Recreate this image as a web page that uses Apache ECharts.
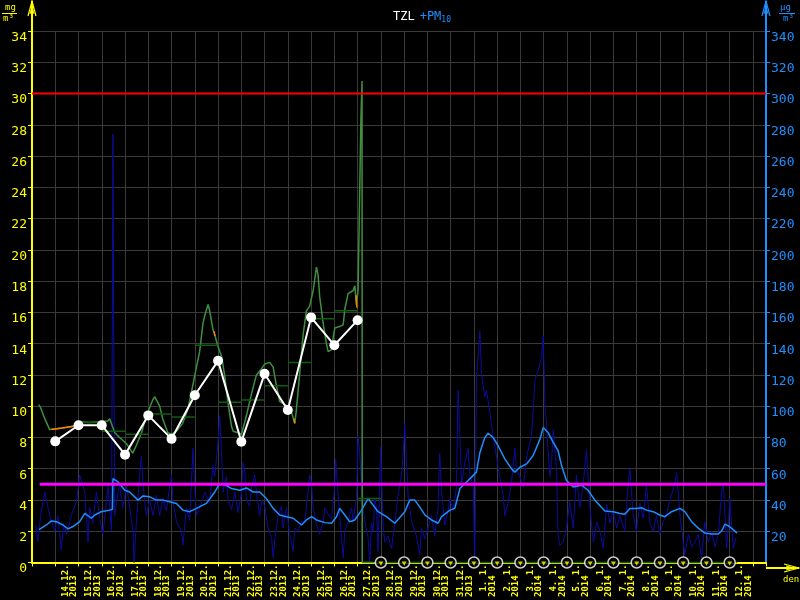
<!DOCTYPE html>
<html><head><meta charset="utf-8">
<script src="https://cdn.jsdelivr.net/npm/echarts@6/dist/echarts.min.js"></script>
<style>html,body{margin:0;padding:0;background:#000}#c{width:800px;height:600px}</style>
</head><body><div id="c"></div>
<script>
// x values are days since 13.12.2013 00:00
const dayLabels = ['14.12.\n2013\u00a0\u00a0','15.12.\n2013\u00a0\u00a0','16.12.\n2013\u00a0\u00a0','17.12.\n2013\u00a0\u00a0','18.12.\n2013\u00a0\u00a0','19.12.\n2013\u00a0\u00a0','20.12.\n2013\u00a0\u00a0','21.12.\n2013\u00a0\u00a0','22.12.\n2013\u00a0\u00a0','23.12.\n2013\u00a0\u00a0','24.12.\n2013\u00a0\u00a0','25.12.\n2013\u00a0\u00a0','26.12.\n2013\u00a0\u00a0','27.12.\n2013\u00a0\u00a0','28.12.\n2013\u00a0\u00a0','29.12.\n2013\u00a0\u00a0','30.12.\n2013\u00a0\u00a0','31.12.\n2013\u00a0\u00a0',
 '\u00a01.\u00a01.\n2014\u00a0\u00a0','\u00a02.\u00a01.\n2014\u00a0\u00a0','\u00a03.\u00a01.\n2014\u00a0\u00a0','\u00a04.\u00a01.\n2014\u00a0\u00a0','\u00a05.\u00a01.\n2014\u00a0\u00a0','\u00a06.\u00a01.\n2014\u00a0\u00a0','\u00a07.\u00a01.\n2014\u00a0\u00a0','\u00a08.\u00a01.\n2014\u00a0\u00a0','\u00a09.\u00a01.\n2014\u00a0\u00a0','10.\u00a01.\n2014\u00a0\u00a0','11.\u00a01.\n2014\u00a0\u00a0','12.\u00a01.\n2014\u00a0\u00a0'];

const pm10Hourly = [[0.16,24],[0.25,13.5],[0.37,30],[0.55,45],[0.62,46],[0.76,30],[0.98,20],[1.11,30],[1.26,8],[1.36,25],[1.49,18],[1.69,30],[1.91,39],[2.05,56],[2.12,57],[2.27,45],[2.41,13],[2.48,35],[2.61,25],[2.77,45],[2.91,28],[3.05,18],[3.27,49],[3.34,35],[3.42,20],[3.48,274],[3.52,120],[3.56,30],[3.63,39],[3.77,50],[3.90,35],[4.06,49],[4.20,35],[4.34,20],[4.39,0],[4.49,26],[4.63,56],[4.71,68],[4.77,50],[4.92,30],[5.06,40],[5.20,30],[5.35,43],[5.49,30],[5.63,41],[5.78,33],[5.92,49],[6.00,56],[6.06,40],[6.21,26],[6.43,20],[6.49,11],[6.64,35],[6.78,27],[6.92,73],[6.99,50],[7.07,30],[7.29,38],[7.43,45],[7.64,38],[7.78,62],[7.86,55],[8.00,77],[8.07,94],[8.15,70],[8.22,45],[8.36,55],[8.43,40],[8.58,34],[8.72,45],[8.86,32],[9.01,45],[9.08,64],[9.15,58],[9.22,40],[9.36,36],[9.44,48],[9.58,56],[9.65,45],[9.79,30],[9.87,40],[10.01,36],[10.15,22],[10.30,16],[10.37,3],[10.44,15],[10.58,30],[10.73,36],[10.79,22],[10.94,35],[11.08,18],[11.23,7],[11.30,22],[11.44,20],[11.59,26],[11.73,26],[11.87,45],[11.94,56],[12.02,50],[12.09,35],[12.23,24],[12.37,18],[12.52,26],[12.59,35],[12.73,31],[12.88,28],[13.02,49],[13.06,66],[13.16,45],[13.23,30],[13.38,3],[13.45,20],[13.59,26],[13.74,35],[13.81,26],[13.95,41],[14.02,81],[14.09,70],[14.17,50],[14.24,35],[14.31,26],[14.45,16],[14.52,0],[14.60,25],[14.67,20],[14.74,41],[14.81,35],[14.88,7],[14.99,74],[15.10,22],[15.17,13],[15.31,17],[15.46,9],[15.60,25],[15.74,43],[15.89,56],[15.96,70],[16.03,89],[16.10,65],[16.17,43],[16.32,26],[16.53,17],[16.67,5],[16.75,22],[16.89,15],[17.03,22],[17.18,30],[17.32,17],[17.46,35],[17.53,70],[17.61,45],[17.75,24],[17.89,33],[17.97,41],[18.11,33],[18.25,48],[18.32,110],[18.40,80],[18.47,50],[18.61,64],[18.75,73],[18.83,55],[18.97,50],[19.04,0],[19.11,117],[19.26,148],[19.33,120],[19.47,106],[19.54,110],[19.69,96],[19.83,80],[19.97,68],[20.12,54],[20.26,43],[20.33,30],[20.47,38],[20.62,52],[20.76,73],[20.83,60],[20.98,55],[21.12,48],[21.27,68],[21.48,81],[21.63,117],[21.77,123],[21.91,132],[21.98,145],[22.06,100],[22.12,89],[22.19,72],[22.27,55],[22.34,64],[22.41,85],[22.55,60],[22.62,18],[22.69,11],[22.84,13],[22.98,22],[23.12,39],[23.27,22],[23.41,56],[23.55,35],[23.70,50],[23.84,72],[23.91,55],[23.99,35],[24.14,13],[24.28,26],[24.42,20],[24.56,9],[24.71,37],[24.85,25],[24.99,33],[25.14,22],[25.28,30],[25.49,20],[25.63,49],[25.71,60],[25.85,30],[25.99,20],[26.14,38],[26.28,28],[26.42,49],[26.57,25],[26.71,20],[26.85,30],[26.99,18],[27.14,26],[27.28,30],[27.42,40],[27.57,47],[27.72,57],[27.86,30],[28.00,13],[28.07,5],[28.22,18],[28.36,10],[28.50,13],[28.65,18],[28.79,3],[28.93,26],[29.08,13],[29.22,20],[29.37,10],[29.51,18],[29.66,47],[29.73,49],[29.87,9],[30.01,41],[30.15,9],[30.27,16]];

const pm10Average = [[0.30,21],[0.62,24],[0.83,26.6],[1.05,26.1],[1.33,24],[1.55,21.5],[1.76,23],[2.05,26.1],[2.27,31.4],[2.55,28.3],[2.70,30.4],[2.98,32.5],[3.34,33.5],[3.46,34],[3.48,53.6],[3.70,51.5],[3.99,46.2],[4.20,45.1],[4.56,39.9],[4.77,42.6],[5.06,42],[5.35,39.9],[5.63,39.9],[5.92,38.8],[6.21,37.8],[6.49,33.5],[6.78,32.5],[7.07,34.6],[7.50,37.8],[7.86,45.1],[8.07,50.4],[8.29,49.9],[8.58,47.3],[8.93,46.2],[9.22,47.7],[9.51,45.1],[9.79,45.1],[10.08,40.9],[10.37,34.6],[10.65,30.4],[10.94,29.3],[11.23,28.3],[11.59,24],[11.80,27.2],[12.02,29.3],[12.23,27.2],[12.59,25.5],[12.88,25.1],[13.09,29.3],[13.23,34.6],[13.45,30.4],[13.66,26.1],[13.88,27.2],[14.17,33.5],[14.45,40.9],[14.67,36.7],[14.88,32.5],[15.24,29.3],[15.60,25.1],[16.03,32.5],[16.24,39.9],[16.46,39.9],[16.67,35.6],[16.89,30.4],[17.18,27.2],[17.46,25.1],[17.61,29.3],[17.97,33.5],[18.18,34.6],[18.40,47.3],[18.61,50.4],[18.90,54.6],[19.11,57.8],[19.26,70.4],[19.47,79.9],[19.61,82.7],[19.83,79.9],[20.04,74.7],[20.33,66.3],[20.62,59.9],[20.76,57.8],[20.98,60.9],[21.27,63.1],[21.55,68.4],[21.84,78.9],[21.98,86.3],[22.19,83.1],[22.41,76.8],[22.62,71.5],[22.77,62],[22.98,52.5],[23.27,48.3],[23.34,49.4],[23.63,49.4],[23.91,46.2],[24.20,39.9],[24.63,32.9],[24.99,32.5],[25.28,31.4],[25.49,30.8],[25.71,34.6],[25.99,34.6],[26.21,35],[26.42,33.5],[26.71,32.5],[26.99,30.4],[27.21,29.3],[27.50,32.5],[27.86,34.6],[28.07,32.5],[28.36,26.1],[28.65,22],[28.93,18.8],[29.22,18.2],[29.51,18.2],[29.66,20.3],[29.80,24.5],[29.99,23],[30.16,20.9],[30.31,18.8]];

const tzlRunning = [[0.29,10.1],[0.37,9.9],[0.55,9.2],[0.76,8.5],[0.83,8.5],[1.30,8.6],[1.91,8.75],[1.97,9.0],[2.48,8.95],[2.91,9.0],[3.26,9.05],[3.34,9.2],[3.56,8.3],[3.77,8.0],[4.06,7.6],[4.20,7.3],[4.33,7.0],[4.49,7.5],[4.71,8.3],[4.92,9.4],[5.19,10.4],[5.28,10.6],[5.49,10.0],[5.62,9.2],[5.84,8.3],[6.00,8.2],[6.21,8.4],[6.48,8.9],[6.70,9.8],[6.91,11.3],[6.99,11.9],[7.21,13.5],[7.35,15.3],[7.43,15.8],[7.57,16.5],[7.64,16.1],[7.78,14.9],[7.85,14.6],[8.00,13.8],[8.15,13.2],[8.29,11.9],[8.43,10.2],[8.58,8.7],[8.65,8.4],[8.86,8.3],[9.01,8.2],[9.22,9.4],[9.44,10.8],[9.65,12.0],[9.87,12.4],[10.01,12.7],[10.22,12.8],[10.37,12.5],[10.51,11.3],[10.65,10.3],[10.87,10.1],[11.01,10.0],[11.16,9.6],[11.30,8.9],[11.37,9.8],[11.51,12.1],[11.66,14.6],[11.80,16.1],[11.94,16.4],[12.09,17.4],[12.23,18.9],[12.30,18.4],[12.37,17.0],[12.52,15.3],[12.66,14.0],[12.73,13.5],[12.88,13.6],[12.95,14.4],[13.02,15.0],[13.23,15.1],[13.38,15.2],[13.45,16.2],[13.59,17.2],[13.81,17.4],[13.88,17.7],[13.95,16.5],[14.02,17.4],[14.10,17.5],[14.14,28.2],[14.17,28.2],[14.19,30.8],[14.20,0],[15.00,0]];

const tzlInterpolated = [[[0.83,8.5],[1.30,8.6],[1.91,8.75]],[[7.82,14.8],[7.87,14.5]],[[11.26,9.2],[11.30,8.9]],[[13.93,17.1],[13.97,16.3]]];

const tzlDailyDays = [2,3,4,5,6,7,8,9,10,11,12,13,14];
const tzlDailyBars = [8.95,8.4,8.2,9.5,9.3,13.9,10.25,10.4,11.3,12.8,15.6,16.1,4.1];
const tzlNoDataRange = [15,30.3];

const tzlDailyPoints = [[1,7.75],[2,8.78],[3,8.78],[4,6.9],[5,9.41],[6,7.91],[7,10.7],[8,12.9],[9,7.72],[10,12.07],[11,9.75],[12,15.68],[13,13.9],[14,15.5]];
const noDataDays = [15,16,17,18,19,20,21,22,23,24,25,26,27,28,29,30];

const limitTZL = 30;     // mg/m3
const limitPM10 = 50;    // ug/m3
const X_MAX = 31.56;

const YEL = '#ffff00', BLUE = '#1e8fff';
const MONO = 'DejaVu Sans Mono';

function segData(segs){
  const out=[];
  segs.forEach(s=>{ s.forEach(p=>out.push(p)); out.push([s[s.length-1][0],'-']); });
  return out;
}
const dailySegs = tzlDailyDays.map((d,i)=>[[d,tzlDailyBars[i]],[d+1,tzlDailyBars[i]]]);
dailySegs.push([[tzlNoDataRange[0],0],[tzlNoDataRange[1],0]]);

const chart = echarts.init(document.getElementById('c'));
chart.setOption({
  animation:false,
  backgroundColor:'#000',
  title:{left:388, top:3, text:'{a|TZL} {b|+PM}{c|10}',
    textStyle:{fontWeight:'normal',rich:{a:{color:'#fff',fontFamily:MONO,fontSize:12,fontWeight:'normal'},b:{color:BLUE,fontFamily:MONO,fontSize:12,fontWeight:'normal'},c:{color:BLUE,fontFamily:MONO,fontSize:8,fontWeight:'normal',padding:[6,0,0,0]}}}},
  grid:{left:32,right:34,top:31,bottom:32},
  xAxis:{type:'value',min:0,max:X_MAX,interval:1,
    axisLine:{lineStyle:{color:YEL,width:2}},
    axisTick:{length:4,lineStyle:{color:YEL}},
    splitLine:{show:true,lineStyle:{color:'#3a3a3a',width:1}},
    axisLabel:{customValues:dayLabels.map((_,i)=>i+1.62),rotate:90,margin:2,
      formatter:v=>dayLabels[Math.round(v-1.62)]||'',
      color:YEL,fontFamily:MONO,fontSize:9,fontWeight:'bold',lineHeight:8.5}},
  yAxis:[
    {type:'value',min:0,max:34,interval:2,position:'left',
     axisLine:{show:true,lineStyle:{color:YEL,width:2}},
     axisTick:{show:true,length:4,lineStyle:{color:YEL}},
     splitLine:{show:true,lineStyle:{color:'#3a3a3a',width:1}},
     axisLabel:{color:YEL,fontFamily:MONO,fontSize:13,margin:5,verticalAlign:'top'}},
    {type:'value',min:0,max:340,interval:20,position:'right',
     axisLine:{show:true,lineStyle:{color:BLUE,width:2}},
     axisTick:{show:true,length:4,lineStyle:{color:BLUE}},
     splitLine:{show:false},
     axisLabel:{color:BLUE,fontFamily:MONO,fontSize:13,margin:5,verticalAlign:'top',showMinLabel:false}}
  ],
  series:[
    {type:'line',yAxisIndex:1,data:pm10Hourly,showSymbol:false,lineStyle:{color:'#0c0c9c',width:1},z:2},
    {type:'line',yAxisIndex:1,data:pm10Average,showSymbol:false,lineStyle:{color:BLUE,width:1.5},z:3},
    {type:'line',yAxisIndex:0,data:tzlRunning,showSymbol:false,clip:false,lineStyle:{color:'#3f8f3f',width:1.5},z:4},
    {type:'line',yAxisIndex:0,data:segData(dailySegs),showSymbol:false,clip:false,connectNulls:false,lineStyle:{color:'#0e5e0e',width:1.5},z:5},
    {type:'line',yAxisIndex:0,data:segData(tzlInterpolated),showSymbol:false,connectNulls:false,lineStyle:{color:'#ff8000',width:1.5},z:5},
    {type:'line',yAxisIndex:0,data:tzlDailyPoints,symbol:'circle',symbolSize:10,itemStyle:{color:'#fff'},lineStyle:{color:'#fff',width:2},z:6},
    {type:'line',yAxisIndex:1,data:[[0.33,limitPM10],[X_MAX,limitPM10]],showSymbol:false,lineStyle:{color:'#ff00ff',width:3},z:7},
    {type:'line',yAxisIndex:0,data:[[0,limitTZL],[X_MAX,limitTZL]],showSymbol:false,lineStyle:{color:'#ff0000',width:2},z:7},
    {type:'scatter',yAxisIndex:0,data:noDataDays.map(d=>[d,0]),symbol:'circle',symbolSize:11,clip:false,itemStyle:{color:'#000',borderColor:'#fff',borderWidth:1.5},z:8},
    {type:'scatter',yAxisIndex:0,data:noDataDays.map(d=>[d,0]),symbol:'triangle',symbolRotate:180,symbolSize:[5,4],symbolOffset:[0,1],clip:false,itemStyle:{color:YEL},z:9}
  ],
  graphic:[
    {type:'line',shape:{x1:32,y1:31,x2:32,y2:1},style:{stroke:YEL,lineWidth:2}},
    {type:'polyline',shape:{points:[[28,16],[32,1],[36,16]]},style:{stroke:YEL,lineWidth:1.2,fill:null}},
    {type:'polyline',shape:{points:[[30,14],[32,6],[34,14]]},style:{stroke:YEL,lineWidth:1,fill:null}},
    {type:'line',shape:{x1:766,y1:31,x2:766,y2:1},style:{stroke:BLUE,lineWidth:2}},
    {type:'polyline',shape:{points:[[762,16],[766,1],[770,16]]},style:{stroke:BLUE,lineWidth:1.2,fill:null}},
    {type:'polyline',shape:{points:[[764,14],[766,6],[768,14]]},style:{stroke:BLUE,lineWidth:1,fill:null}},
    {type:'line',shape:{x1:766,y1:568,x2:799,y2:568},style:{stroke:YEL,lineWidth:2}},
    {type:'polyline',shape:{points:[[784,564],[799,568],[784,572]]},style:{stroke:YEL,lineWidth:1.2,fill:null}},
    {type:'polyline',shape:{points:[[786,566],[794,568],[786,570]]},style:{stroke:YEL,lineWidth:1,fill:null}},
    {type:'text',x:783,y:575,style:{text:'den',fill:YEL,font:'9px "DejaVu Sans Mono"'}},
    {type:'text',x:5,y:3,style:{text:'mg',fill:YEL,font:'9px "DejaVu Sans Mono"'}},
    {type:'line',shape:{x1:2,y1:13.5,x2:17,y2:13.5},style:{stroke:YEL,lineWidth:1}},
    {type:'text',x:3,y:14,style:{text:'m³',fill:YEL,font:'9px "DejaVu Sans Mono"'}},
    {type:'text',x:780,y:3,style:{text:'µg',fill:BLUE,font:'9px "DejaVu Sans Mono"'}},
    {type:'line',shape:{x1:779,y1:13.5,x2:795,y2:13.5},style:{stroke:BLUE,lineWidth:1}},
    {type:'text',x:783,y:14,style:{text:'m³',fill:BLUE,font:'9px "DejaVu Sans Mono"'}}
  ]
});
</script></body></html>
